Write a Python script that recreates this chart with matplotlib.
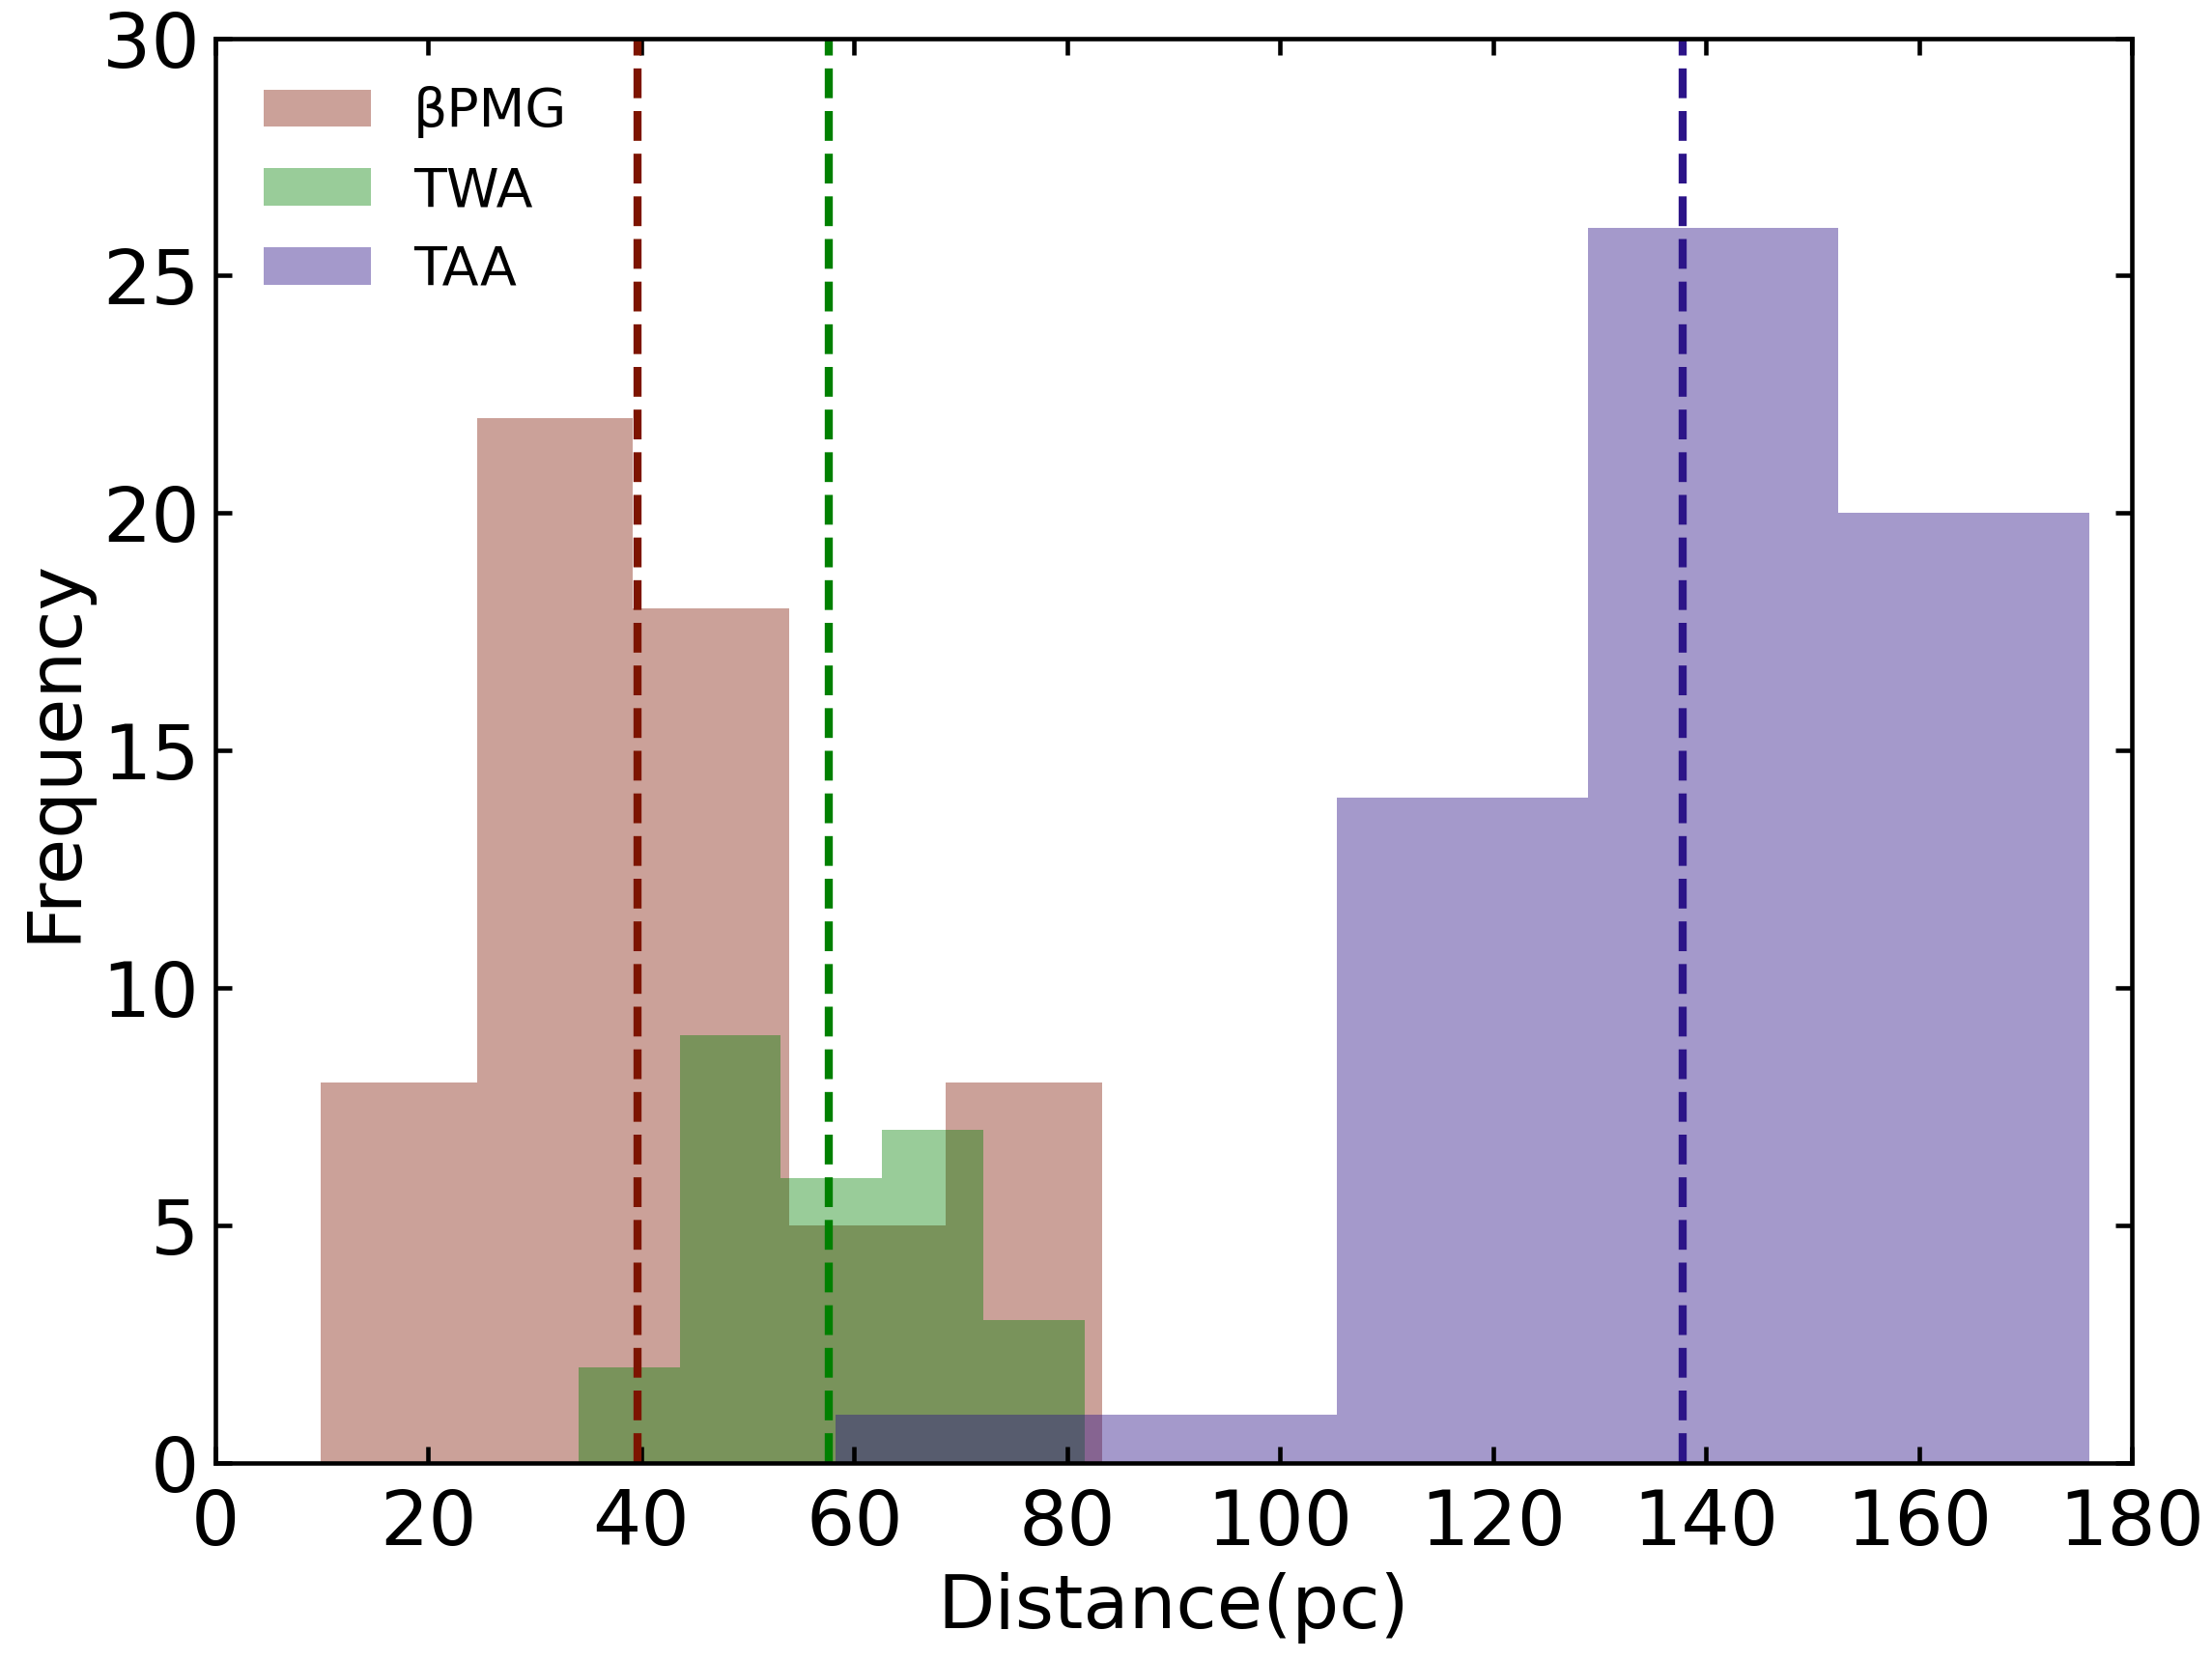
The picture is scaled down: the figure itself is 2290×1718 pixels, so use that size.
import numpy as np
import matplotlib
matplotlib.use('Agg')
import matplotlib.pyplot as plt

# bin edges and counts
bpmg_edges = [9.86, 24.54, 39.22, 53.9, 68.58, 83.26]
bpmg_counts = [8, 22, 18, 5, 8]
twa_edges = [34.11, 43.61, 53.11, 62.61, 72.11, 81.61]
twa_counts = [2, 9, 6, 7, 3]
taa_edges = [58.2, 81.76, 105.32, 128.88, 152.44, 176.0]
taa_counts = [1, 1, 14, 26, 20]

# median distances (dashed lines)
medians = [39.6, 57.6, 137.8]
labels = ["βPMG", "TWA", "TAA"]
colors = ["#7d1400", "#008000", "#2c1488"]

plt.rcParams['font.family'] = 'DejaVu Sans'
fig = plt.figure(figsize=(2290 / 300, 1718 / 300), dpi=300)
ax = fig.add_axes([0.0974, 0.1184, 0.8664, 0.8586])

groups = [(bpmg_edges, bpmg_counts), (twa_edges, twa_counts), (taa_edges, taa_counts)]
for (edges, counts), med, lab, c in zip(groups, medians, labels, colors):
    edges = np.array(edges)
    centers = (edges[:-1] + edges[1:]) / 2
    a = 0.43 if lab == "TAA" else 0.4
    ax.hist(centers, bins=edges, weights=counts, color=c, alpha=a, label=lab)
    ax.axvline(med, color=c, linestyle='--', linewidth=2)

ax.set_xlim(0, 180)
ax.set_ylim(0, 30)
ax.set_xticks(np.arange(0, 181, 20))
ax.set_yticks(np.arange(0, 31, 5))
ax.tick_params(direction='in', top=True, right=True, labelsize=19, length=4, width=1.1)
ax.tick_params(axis='x', pad=6)
ax.tick_params(axis='y', pad=4)
for s in ax.spines.values():
    s.set_linewidth(1.1)

ax.set_xlabel("Distance(pc)", fontsize=18.5, labelpad=3)
ax.set_ylabel("Frequency", fontsize=18.5, labelpad=3)
ax.legend(loc='upper left', frameon=False, fontsize=13.3)

fig.savefig("out.png", dpi=300)
